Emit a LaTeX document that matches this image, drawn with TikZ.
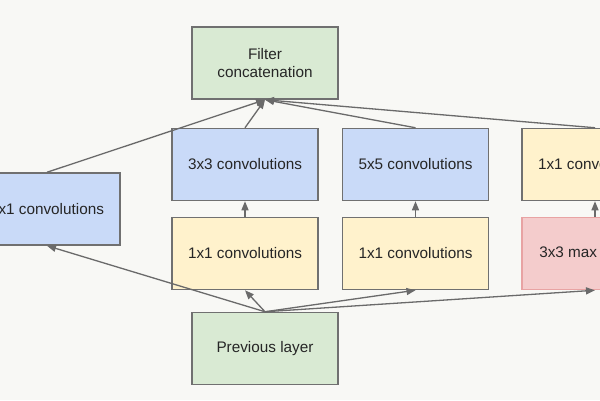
\documentclass[tikz,border=0pt]{standalone}
\usepackage{fontspec}
\setmainfont{Liberation Sans}
\usepackage{tikz}
\usetikzlibrary{arrows.meta, positioning}
\definecolor{BoxGray}{HTML}{707070}
\definecolor{ArrowGray}{HTML}{6A6A6A}
\definecolor{ConvBlue}{HTML}{C9DAF8}
\definecolor{ReduceYellow}{HTML}{FFF2CC}
\definecolor{LayerGreen}{HTML}{D9EAD3}
\definecolor{PoolPink}{HTML}{F4CCCC}
\definecolor{PoolRed}{HTML}{E8A3A3}
\definecolor{PaperWhite}{HTML}{F8F8F5}

\begin{document}
\begin{tikzpicture}[x=1pt, y=-1pt,
        box/.style={rectangle, draw=BoxGray, line width=1.5pt, minimum width=146pt, minimum height=72pt,
            text=black!85, align=center, font=\fontsize{15.3}{18.5}\selectfont},
        conv/.style={box, fill=ConvBlue},
        reduce/.style={box, fill=ReduceYellow},
        layer/.style={box, fill=LayerGreen},
        pool/.style={box, fill=PoolPink, draw=PoolRed},
        arrow/.style={-{Triangle[length=9pt, width=7pt]}, line width=1.3pt, ArrowGray}
    ]
        \useasboundingbox (0, 0) rectangle (600, 400);
        \clip (0, 0) rectangle (600, 400);
        \fill[PaperWhite] (0, 0) rectangle (600, 400);

        % Output and input
        \node[layer] (concat) at (265, 63) {Filter\\concatenation};
        \node[layer] (prev) at (265, 348.5) {Previous layer};

        % Branches
        \node[conv] (conv1) at (47, 209) {1x1 convolutions};
        \node[conv] (conv3) at (245, 164.5) {3x3 convolutions};
        \node[conv] (conv5) at (415.5, 164.5) {5x5 convolutions};
        \node[reduce] (proj) at (595, 164.5) {1x1 convolutions};
        \node[reduce] (red3) at (245, 253.5) {1x1 convolutions};
        \node[reduce] (red5) at (415.5, 253.5) {1x1 convolutions};
        \node[pool] (pool) at (595, 253.5) {3x3 max pooling};

        % Previous layer -> branches
        \draw[arrow] (prev.north) -- (conv1.south);
        \draw[arrow] (prev.north) -- (red3.south);
        \draw[arrow] (prev.north) -- (red5.south);
        \draw[arrow] (prev.north) -- (pool.south);

        % Reductions -> convolutions
        \draw[arrow] (red3) -- (conv3);
        \draw[arrow] (red5) -- (conv5);
        \draw[arrow] (pool) -- (proj);

        % Branches -> concatenation
        \draw[arrow] (conv1.north) -- (concat.south);
        \draw[arrow] (conv3.north) -- (concat.south);
        \draw[arrow] (conv5.north) -- (concat.south);
        \draw[arrow] (proj.north) -- (concat.south);
    \end{tikzpicture}
\end{document}
